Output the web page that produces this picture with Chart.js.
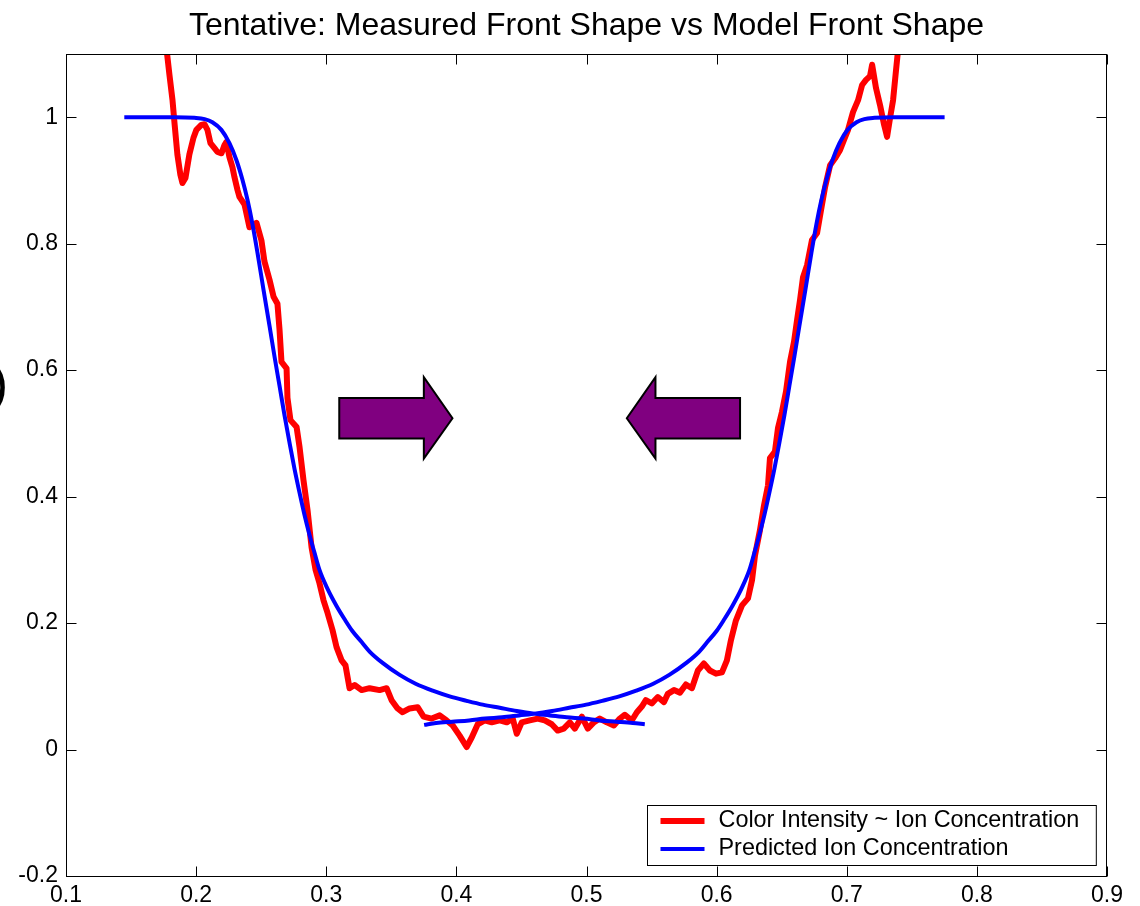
<!DOCTYPE html>
<html>
<head>
<meta charset="utf-8">
<title>Tentative: Measured Front Shape vs Model Front Shape</title>
<script src="https://cdn.jsdelivr.net/npm/chart.js@4.4.1/dist/chart.umd.min.js"></script>
<style>
  html, body { margin: 0; padding: 0; background: #ffffff; }
  canvas { display: block; }
</style>
</head>
<body>
<canvas id="front" width="1140" height="906"></canvas>
<script>
// ---- measured front: colour intensity along the channel ----
const redX = [
  0.1756, 0.1795, 0.1818, 0.1835, 0.1856, 0.1879, 0.1895, 0.1918, 0.1948, 0.1979,
  0.2002, 0.2040, 0.2064, 0.2087, 0.2110, 0.2141, 0.2164, 0.2195, 0.2218, 0.2233,
  0.2256, 0.2279, 0.2295, 0.2318, 0.2333, 0.2372, 0.2410, 0.2464, 0.2502, 0.2525,
  0.2564, 0.2595, 0.2625, 0.2641, 0.2656, 0.2695, 0.2702, 0.2725, 0.2772, 0.2795,
  0.2825, 0.2856, 0.2887, 0.2918, 0.2948, 0.2979, 0.3010, 0.3048, 0.3079, 0.3118,
  0.3148, 0.3179, 0.3218, 0.3272, 0.3333, 0.3410, 0.3464, 0.3502, 0.3548, 0.3587,
  0.3641, 0.3702, 0.3748, 0.3810, 0.3872, 0.3925, 0.3972, 0.4025, 0.4079, 0.4118,
  0.4164, 0.4218, 0.4272, 0.4333, 0.4387, 0.4433, 0.4464, 0.4502, 0.4564, 0.4625,
  0.4679, 0.4733, 0.4779, 0.4825, 0.4872, 0.4910, 0.4964, 0.5010, 0.5056, 0.5102,
  0.5156, 0.5210, 0.5256, 0.5295, 0.5348, 0.5387, 0.5425, 0.5456, 0.5502, 0.5548,
  0.5595, 0.5625, 0.5672, 0.5718, 0.5764, 0.5810, 0.5856, 0.5902, 0.5948, 0.5995,
  0.6041, 0.6079, 0.6110, 0.6148, 0.6195, 0.6241, 0.6272, 0.6295, 0.6333, 0.6364,
  0.6395, 0.6410, 0.6448, 0.6472, 0.6502, 0.6533, 0.6564, 0.6595, 0.6618, 0.6641,
  0.6664, 0.6695, 0.6733, 0.6772, 0.6802, 0.6833, 0.6872, 0.6910, 0.6948, 0.6979,
  0.7010, 0.7048, 0.7087, 0.7118, 0.7148, 0.7179, 0.7195, 0.7225, 0.7256, 0.7287,
  0.7310, 0.7333, 0.7356, 0.7379, 0.7402
];
const redY = [
  1.138, 1.067, 1.028, 0.988, 0.941, 0.909, 0.896, 0.904, 0.941, 0.967,
  0.980, 0.988, 0.989, 0.980, 0.959, 0.951, 0.945, 0.943, 0.956, 0.961,
  0.937, 0.921, 0.905, 0.885, 0.874, 0.862, 0.826, 0.833, 0.805, 0.772,
  0.743, 0.716, 0.705, 0.664, 0.613, 0.603, 0.556, 0.521, 0.510, 0.478,
  0.426, 0.379, 0.320, 0.284, 0.263, 0.236, 0.216, 0.189, 0.162, 0.141,
  0.133, 0.097, 0.102, 0.094, 0.097, 0.094, 0.097, 0.078, 0.065, 0.059,
  0.065, 0.067, 0.052, 0.049, 0.054, 0.046, 0.038, 0.022, 0.004, 0.019,
  0.040, 0.046, 0.043, 0.046, 0.043, 0.049, 0.025, 0.043, 0.046, 0.049,
  0.046, 0.040, 0.030, 0.033, 0.043, 0.033, 0.052, 0.033, 0.043, 0.049,
  0.043, 0.038, 0.049, 0.055, 0.046, 0.059, 0.068, 0.078, 0.073, 0.083,
  0.075, 0.088, 0.094, 0.090, 0.103, 0.097, 0.125, 0.136, 0.125, 0.120,
  0.122, 0.141, 0.173, 0.204, 0.228, 0.239, 0.268, 0.307, 0.347, 0.386,
  0.418, 0.461, 0.471, 0.509, 0.534, 0.566, 0.613, 0.645, 0.679, 0.711,
  0.747, 0.766, 0.806, 0.817, 0.853, 0.889, 0.924, 0.935, 0.948, 0.964,
  0.980, 1.008, 1.027, 1.051, 1.059, 1.065, 1.083, 1.046, 1.019, 0.988,
  0.969, 0.999, 1.027, 1.075, 1.122
];

// ---- model front entering from the left ----
const blueLeftX = [
  0.1448, 0.1642, 0.1835, 0.1987, 0.2065, 0.2125, 0.2194, 0.2256, 0.2310, 0.2356,
  0.2395, 0.2433, 0.2472, 0.2518, 0.2564, 0.2602, 0.2641, 0.2679, 0.2718, 0.2756,
  0.2795, 0.2833, 0.2872, 0.2910, 0.2948, 0.3010, 0.3079, 0.3141, 0.3202, 0.3272,
  0.3333, 0.3433, 0.3564, 0.3687, 0.3818, 0.3948, 0.4079, 0.4202, 0.4333, 0.4464,
  0.4587, 0.4718, 0.4848, 0.4979, 0.5102, 0.5233, 0.5356, 0.5448
];
const blueLeftY = [
  1.000, 1.000, 1.000, 0.999, 0.997, 0.992, 0.980, 0.959, 0.932, 0.901,
  0.869, 0.831, 0.785, 0.727, 0.670, 0.622, 0.575, 0.529, 0.485, 0.444,
  0.406, 0.371, 0.339, 0.311, 0.284, 0.254, 0.227, 0.206, 0.187, 0.170,
  0.155, 0.137, 0.118, 0.104, 0.093, 0.084, 0.077, 0.071, 0.066, 0.061,
  0.057, 0.054, 0.051, 0.049, 0.046, 0.044, 0.042, 0.040
];

// ---- model front entering from the right ----
const blueRightX = [
  0.3752, 0.3844, 0.3967, 0.4098, 0.4221, 0.4352, 0.4482, 0.4613, 0.4736, 0.4867,
  0.4998, 0.5121, 0.5252, 0.5382, 0.5513, 0.5636, 0.5767, 0.5867, 0.5928, 0.5998,
  0.6059, 0.6121, 0.6190, 0.6252, 0.6290, 0.6328, 0.6367, 0.6405, 0.6444, 0.6482,
  0.6521, 0.6559, 0.6598, 0.6636, 0.6682, 0.6728, 0.6767, 0.6805, 0.6844, 0.6890,
  0.6944, 0.7006, 0.7075, 0.7135, 0.7213, 0.7365, 0.7558, 0.7752
];
const blueRightY = [
  0.039, 0.042, 0.044, 0.046, 0.049, 0.051, 0.054, 0.057, 0.061, 0.066,
  0.071, 0.077, 0.084, 0.093, 0.104, 0.118, 0.137, 0.155, 0.170, 0.187,
  0.206, 0.227, 0.254, 0.284, 0.311, 0.339, 0.371, 0.406, 0.444, 0.485,
  0.529, 0.575, 0.622, 0.670, 0.727, 0.785, 0.831, 0.869, 0.901, 0.932,
  0.959, 0.980, 0.992, 0.997, 0.999, 1.000, 1.000, 1.000
];

// ---- axes ----
const xTicks = [0.1, 0.2, 0.3, 0.4, 0.5, 0.6, 0.7, 0.8, 0.9];
const xTickLabels = ['0.1', '0.2', '0.3', '0.4', '0.5', '0.6', '0.7', '0.8', '0.9'];
const yTicks = [-0.2, 0, 0.2, 0.4, 0.6, 0.8, 1];
const yTickLabels = ['-0.2', '0', '0.2', '0.4', '0.6', '0.8', '1'];

const seriesLabels = ['Color Intensity ~ Ion Concentration', 'Predicted Ion Concentration'];
const chartTitle = 'Tentative: Measured Front Shape vs Model Front Shape';

// build point lists for the library
const redPoints = redX.map((x, i) => ({ x, y: redY[i] }));
const bluePoints = blueLeftX.map((x, i) => ({ x, y: blueLeftY[i] }))
  .concat([{ x: blueRightX[0], y: null }])
  .concat(blueRightX.map((x, i) => ({ x, y: blueRightY[i] })));

const FONT = "'Liberation Sans', Arial, Helvetica, sans-serif";
Chart.defaults.font.family = FONT;
Chart.defaults.color = '#000000';

// front-direction arrows, in data units
const arrows = [
  { tail: 0.310, neck: 0.375, tip: 0.397 },
  { tail: 0.618, neck: 0.553, tip: 0.531 }
];
const arrowBody = [0.492, 0.556];
const arrowHead = [0.460, 0.589];

const decorations = {
  id: 'decorations',
  afterDraw(chart) {
    const { ctx, chartArea: a, scales } = chart;
    const xs = scales.x, ys = scales.y;
    ctx.save();

    // title, centred over the axes
    ctx.fillStyle = '#000';
    ctx.font = '32px ' + FONT;
    ctx.textAlign = 'center';
    ctx.textBaseline = 'alphabetic';
    ctx.fillText(chartTitle, (a.left + a.right) / 2, 35);

    // leftover axis-label parenthesis at the left edge
    ctx.font = '52px ' + FONT;
    ctx.textAlign = 'right';
    ctx.fillText(')', 8, 401);

    // arrows
    const yMid = ys.getPixelForValue((arrowBody[0] + arrowBody[1]) / 2);
    const bT = ys.getPixelForValue(arrowBody[1]), bB = ys.getPixelForValue(arrowBody[0]);
    const hT = ys.getPixelForValue(arrowHead[1]), hB = ys.getPixelForValue(arrowHead[0]);
    arrows.forEach(ar => {
      const t = xs.getPixelForValue(ar.tail), n = xs.getPixelForValue(ar.neck), p = xs.getPixelForValue(ar.tip);
      ctx.beginPath();
      ctx.moveTo(t, bT);
      ctx.lineTo(n, bT);
      ctx.lineTo(n, hT);
      ctx.lineTo(p, yMid);
      ctx.lineTo(n, hB);
      ctx.lineTo(n, bB);
      ctx.lineTo(t, bB);
      ctx.closePath();
      ctx.fillStyle = '#800080';
      ctx.fill();
      ctx.lineWidth = 2;
      ctx.lineJoin = 'miter';
      ctx.strokeStyle = '#000';
      ctx.stroke();
    });

    // axes box with inward ticks
    const L = Math.round(a.left) + 0.5, R = Math.round(a.right) - 0.5;
    const T = Math.round(a.top) + 0.5, B = Math.round(a.bottom) + 0.5;
    ctx.strokeStyle = '#000';
    ctx.lineWidth = 1;
    ctx.strokeRect(L, T, R - L, B - T);
    const tl = 10;
    ctx.beginPath();
    xTicks.forEach(v => {
      const px = Math.round(xs.getPixelForValue(v)) + 0.5;
      ctx.moveTo(px, B); ctx.lineTo(px, B - tl);
      ctx.moveTo(px, T); ctx.lineTo(px, T + tl);
    });
    yTicks.forEach(v => {
      const py = Math.round(ys.getPixelForValue(v)) + 0.5;
      ctx.moveTo(L, py); ctx.lineTo(L + tl, py);
      ctx.moveTo(R, py); ctx.lineTo(R - tl, py);
    });
    ctx.stroke();

    // legend box in the lower right corner
    ctx.font = '23.4px ' + FONT;
    const tw = Math.max(...seriesLabels.map(s => ctx.measureText(s).width));
    const lw = 71 + tw + 17, lh = 60;
    const lx = Math.round(R - 11 - lw) + 0.5, ly = Math.round(B - 12 - lh);
    ctx.fillStyle = '#fff';
    ctx.fillRect(lx, ly + 0.5, lw, lh);
    ctx.strokeStyle = '#000';
    ctx.lineWidth = 1;
    ctx.strokeRect(lx, ly + 0.5, lw, lh);
    chart.data.datasets.forEach((ds, i) => {
      const ry = ly + 16 + i * 28;
      ctx.beginPath();
      ctx.moveTo(lx + 13, ry);
      ctx.lineTo(lx + 57, ry);
      ctx.strokeStyle = ds.borderColor;
      ctx.lineWidth = ds.borderWidth;
      ctx.stroke();
      ctx.fillStyle = '#000';
      ctx.textAlign = 'left';
      ctx.textBaseline = 'middle';
      ctx.fillText(ds.label, lx + 71, ry);
    });
    ctx.restore();
  }
};

new Chart(document.getElementById('front'), {
  type: 'line',
  data: {
    datasets: [
      {
        label: seriesLabels[0],
        data: redPoints,
        borderColor: '#ff0000',
        borderWidth: 6,
        pointRadius: 0,
        tension: 0,
        borderJoinStyle: 'round',
        clip: 0,
        order: 2
      },
      {
        label: seriesLabels[1],
        data: bluePoints,
        borderColor: '#0000ff',
        borderWidth: 4,
        pointRadius: 0,
        cubicInterpolationMode: 'monotone',
        spanGaps: false,
        clip: 0,
        order: 1
      }
    ]
  },
  options: {
    responsive: false,
    animation: false,
    devicePixelRatio: 1,
    layout: { padding: { top: 54, right: 33, bottom: 0, left: 0 } },
    plugins: {
      legend: { display: false },
      title: { display: false },
      tooltip: { enabled: false }
    },
    scales: {
      x: {
        type: 'linear',
        min: 0.1,
        max: 0.9,
        grid: { display: false, drawTicks: false },
        border: { display: false },
        afterBuildTicks: s => { s.ticks = xTicks.map(v => ({ value: v })); },
        afterFit: s => { s.height = 30; },
        ticks: {
          font: { size: 23 },
          color: '#000',
          padding: 6,
          maxRotation: 0,
          autoSkip: false,
          callback: (v, i) => xTickLabels[i]
        }
      },
      y: {
        type: 'linear',
        min: -0.2,
        max: 1.1,
        grid: { display: false, drawTicks: false },
        border: { display: false },
        afterBuildTicks: s => { s.ticks = yTicks.map(v => ({ value: v })); },
        afterFit: s => { s.width = 66; },
        ticks: {
          font: { size: 23 },
          color: '#000',
          padding: 8,
          autoSkip: false,
          callback: (v, i) => yTickLabels[i]
        }
      }
    }
  },
  plugins: [decorations]
});
</script>
</body>
</html>
